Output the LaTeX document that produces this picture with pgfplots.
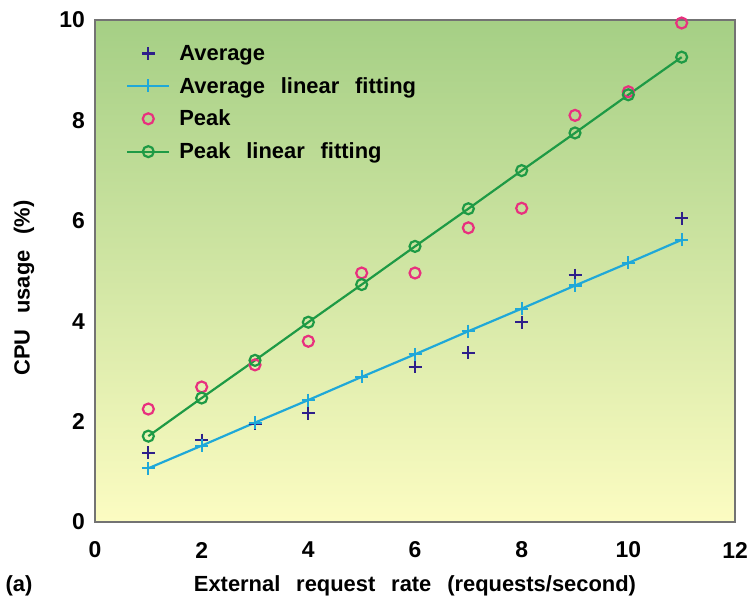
\documentclass[border=0pt]{standalone}
\usepackage{fontspec}
\setmainfont[WordSpace=2.6]{Liberation Sans}
\usepackage{pgfplots}
\pgfplotsset{compat=1.18}
\definecolor{avgc}{HTML}{2E1F8A}
\definecolor{avgfit}{HTML}{1FA8D8}
\definecolor{peakc}{HTML}{E8307E}
\definecolor{peakfit}{HTML}{1E9A45}
\definecolor{bgtop}{HTML}{A5CF85}
\definecolor{bgbot}{HTML}{FCFCC2}
\begin{document}
\begin{tikzpicture}
\useasboundingbox (-95bp,-82bp) rectangle (655bp,522bp);
\begin{axis}[
  at={(0,0)}, anchor=south west,
  scale only axis, width=640bp, height=502bp,
  xmin=0, xmax=12, ymin=0, ymax=10,
  xtick={0,2,...,12}, ytick={0,2,...,10},
  major tick length=0pt,
  axis line style={draw=black!55, line width=1.2pt},
  axis background/.style={top color=bgtop, bottom color=bgbot},
  /pgf/number format/assume math mode=true,
  tick label style={font=\fontsize{23}{26}\selectfont\bfseries, inner sep=0pt},
  xticklabel style={anchor=center, yshift=-28bp},
  yticklabel style={anchor=east, xshift=-10bp},
  xlabel={External request rate (requests/second)},
  ylabel={CPU usage (\%)},
  label style={font=\fontsize{22}{26}\selectfont\bfseries},
  xlabel style={at={(axis description cs:0.5,0)}, anchor=center, yshift=-64bp},
  ylabel style={at={(axis description cs:0,0.5)}, anchor=center, xshift=-17bp, yshift=71bp},
  legend style={draw=none, fill=none, at={(axis description cs:0,1)}, anchor=north west, xshift=28bp, yshift=-21bp,
    font=\fontsize{22}{26}\selectfont\bfseries, row sep=11.5bp, column sep=7bp},
  legend cell align=left,
  legend image code/.code={\draw[mark repeat=2,mark phase=2,#1] plot coordinates {(0bp,0bp) (21bp,0bp) (42bp,0bp)};},
]
\addplot[only marks, mark=+, mark size=6.5bp, avgc, line width=2.2pt]
  coordinates {(1,1.38)(2,1.63)(3,1.96)(4,2.17)(5,2.89)(6,3.09)(7,3.37)(8,3.98)(9,4.92)(10,5.16)(11,6.05)};
\addlegendentry{Average}
\addplot[avgfit, line width=2.2pt, mark=+, mark size=6.5bp]
  coordinates {(1,1.07)(2,1.52)(3,1.98)(4,2.43)(5,2.89)(6,3.34)(7,3.80)(8,4.25)(9,4.71)(10,5.16)(11,5.62)};
\addlegendentry{Average linear fitting}
\addplot[only marks, mark=o, mark size=5.5bp, peakc, line width=2.2pt]
  coordinates {(1,2.25)(2,2.69)(3,3.13)(4,3.60)(5,4.96)(6,4.96)(7,5.86)(8,6.25)(9,8.10)(10,8.57)(11,9.94)};
\addlegendentry{Peak}
\addplot[peakfit, line width=2.2pt, mark=o, mark size=5.5bp]
  coordinates {(1,1.71)(2,2.47)(3,3.22)(4,3.98)(5,4.73)(6,5.49)(7,6.24)(8,7.00)(9,7.75)(10,8.51)(11,9.26)};
\addlegendentry{Peak linear fitting}
\end{axis}
\node[font=\fontsize{22}{26}\selectfont\bfseries] at (-76bp,-64bp) {(a)};
\end{tikzpicture}
\end{document}
